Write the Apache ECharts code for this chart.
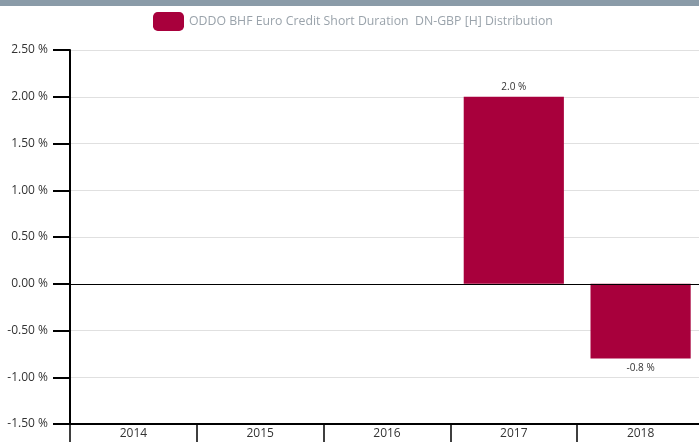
<!DOCTYPE html>
<html><head><meta charset="utf-8">
<script src="https://cdn.jsdelivr.net/npm/echarts@6/dist/echarts.min.js"></script>
<style>html,body{margin:0;padding:0;background:#fff}#c{width:699px;height:442px}</style>
</head><body><div id="c"></div>
<script>
const categories = ['2014','2015','2016','2017','2018'];
const values = [null, null, null, 2.0, -0.8];
const seriesName = 'ODDO BHF Euro Credit Short Duration  DN-GBP [H] Distribution';
const yMin = -1.5, yMax = 2.5, yStep = 0.5;

const data = values.map(v => v == null ? null : (v < 0 ? {value: v, label: {position: 'bottom'}} : v));

const chart = echarts.init(document.getElementById('c'), null, {renderer:'canvas'});
chart.setOption({
  animation:false,
  textStyle:{fontFamily:'Open Sans'},
  graphic:[{type:'rect',shape:{x:0,y:0,width:699,height:6},style:{fill:'#8a9ba8'}}],
  legend:{top:7,left:148,itemWidth:31,itemHeight:19,itemGap:9,
    textStyle:{color:'#9aa3ab',fontSize:12.3,fontFamily:'Open Sans'},
    data:[{name:seriesName,icon:'roundRect'}]},
  grid:{left:70,width:634,top:50,bottom:18,containLabel:false,outerBoundsMode:'none'},
  xAxis:{type:'category',data:categories,position:'bottom',
    axisLine:{onZero:false,lineStyle:{color:'#000',width:2}},
    axisTick:{show:true,length:18,lineStyle:{color:'#000',width:1.5}},
    axisLabel:{color:'#333',fontSize:12,margin:4},
    splitLine:{show:false}},
  yAxis:{type:'value',min:yMin,max:yMax,interval:yStep,
    axisLine:{show:true,lineStyle:{color:'#000',width:2}},
    axisTick:{show:true,length:17,lineStyle:{color:'#000',width:2}},
    axisLabel:{color:'#333',fontSize:12,margin:22,formatter:v=>v.toFixed(2)+' %'},
    splitLine:{show:true,lineStyle:{color:'#e0e0e0',width:1}}},
  series:[{name:seriesName,type:'bar',data:data,barCategoryGap:'21%',
    itemStyle:{color:'#a8003c'},
    label:{show:true,fontSize:10,color:'#333',
      formatter:p=>p.value.toFixed(1)+' %',
      position:'top'},
    markLine:{silent:true,symbol:'none',label:{show:false},
      lineStyle:{color:'#000',type:'solid',width:1.2},data:[{yAxis:0}]}
  }]
});
</script></body></html>
